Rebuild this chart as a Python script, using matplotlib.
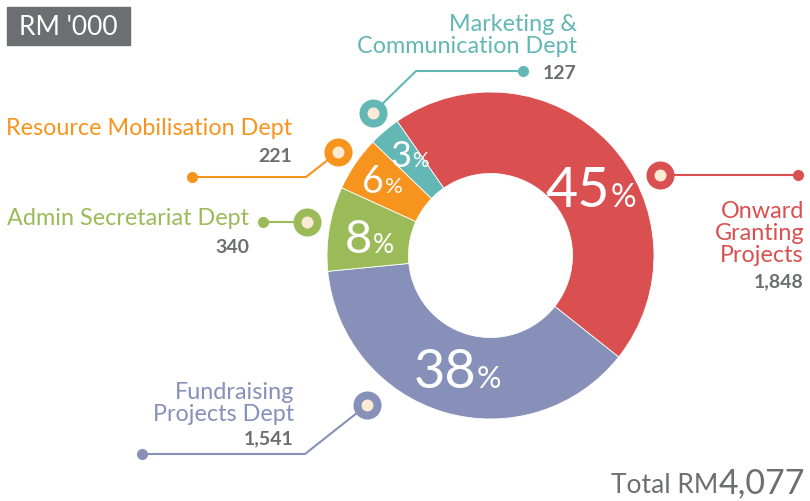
import matplotlib.pyplot as plt
from matplotlib.patches import Rectangle

plt.rcParams['font.family'] = ['Lato', 'DejaVu Sans']

# -------------------------
# Data
# -------------------------
departments = ["Onward\nGranting\nProjects", "Fundraising\nProjects Dept",
               "Admin Secretariat Dept", "Resource Mobilisation Dept",
               "Marketing &\nCommunication Dept"]
values = [1848, 1541, 340, 221, 127]
percents = [45, 38, 8, 6, 3]
value_labels = ["1,848", "1,541", "340", "221", "127"]
total_label = "4,077"
colors = ["#DA4F4F", "#8790B9", "#9BBB59", "#F7941D", "#63B7B5"]

GRAY = "#6D6E71"
CREAM = "#FBEBD5"

# -------------------------
# Canvas in pixel coordinates (y down)
# -------------------------
fig = plt.figure(figsize=(8.1, 5.01), dpi=100)
ax = fig.add_axes([0, 0, 1, 1])

cx, cy, r_out, r_in = 490.5, 255.5, 163.5, 82
# y axis is inverted, so counterclock in data = clockwise on screen
ax.pie(values, colors=colors, startangle=-124.8, counterclock=True,
       center=(cx, cy), radius=r_out,
       wedgeprops=dict(width=r_out - r_in, edgecolor="white", linewidth=0.6))

ax.set_xlim(0, 810)
ax.set_ylim(501, 0)
ax.set_aspect("equal")
ax.axis("off")

# -------------------------
# Percent labels inside ring
# -------------------------
pct_layout = [  # x split, baseline, number size, % size
    (610, 207, 40, 23),
    (476, 388, 39, 22),
    (372, 253, 34, 19),
    (384, 193, 27, 16),
    (411, 167, 26, 15),
]
for p, (x, y, s1, s2) in zip(percents, pct_layout):
    ax.text(x, y, str(p), color="white", fontsize=s1, ha="right", va="baseline")
    ax.text(x + 1, y, "%", color="white", fontsize=s2, ha="left", va="baseline")

# -------------------------
# Leader lines, markers and labels
# -------------------------
leaders = [
    [(660, 175), (798, 175)],
    [(367, 405), (305, 454), (142, 454)],
    [(307, 222), (263, 222)],
    [(338, 152), (306, 177), (192, 177)],
    [(373, 113), (416, 71), (523, 71)],
]
for pts, c in zip(leaders, colors):
    xs = [p[0] for p in pts]
    ys = [p[1] for p in pts]
    ax.plot(xs, ys, color=c, lw=1.5, solid_capstyle="round", zorder=3)
    ax.plot(xs[-1], ys[-1], "o", color=c, markersize=7, zorder=4)
    ax.plot(xs[0], ys[0], "o", markersize=14.4, markerfacecolor=CREAM,
            markeredgecolor=c, markeredgewidth=5.8, zorder=5)

label_layout = [  # x, name baseline, value baseline
    (804, 262, 287),
    (294, 421, 444),
    (249, 225, 253),
    (292, 135, 162),
    (577, 53, 79),
]
for name, val, c, (x, yb, yv) in zip(departments, value_labels, colors, label_layout):
    ax.text(x, yb, name, color=c, fontsize=16.8, ha="right", va="baseline",
            multialignment="right", linespacing=1.05)
    ax.text(x, yv, val, color=GRAY, fontsize=14, fontweight="bold",
            ha="right", va="baseline")

# -------------------------
# Title box and total
# -------------------------
ax.add_patch(Rectangle((7, 7), 123, 38, color=GRAY, zorder=1))
ax.text(68.5, 27, "RM '000", color="white", fontsize=19, ha="center", va="center")

ax.text(718, 493, "Total RM", color=GRAY, fontsize=19, ha="right", va="baseline")
ax.text(719, 493, total_label, color=GRAY, fontsize=24.5,
        ha="left", va="baseline")

plt.savefig("out.png", dpi=100)
